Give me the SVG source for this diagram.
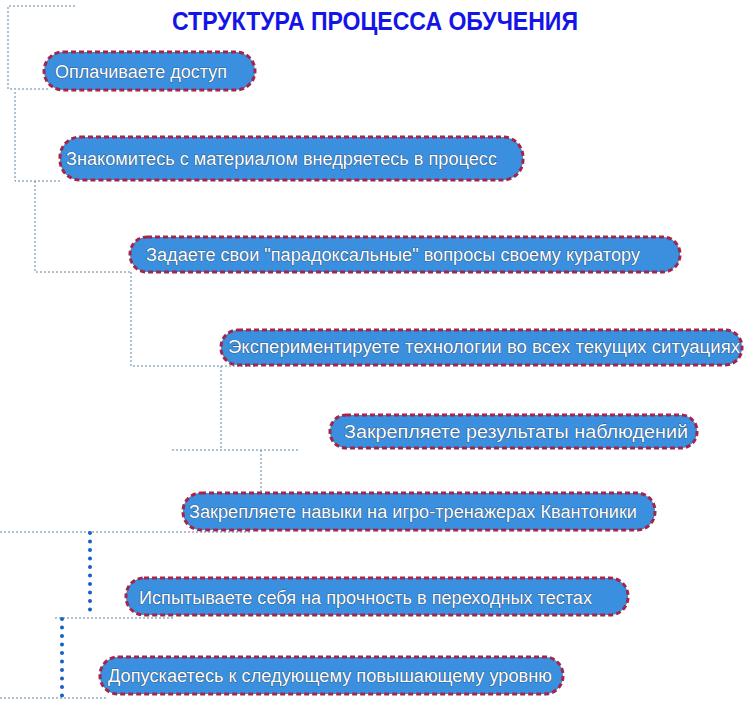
<svg xmlns="http://www.w3.org/2000/svg" width="756" height="709" viewBox="0 0 756 709">
<style>
.n rect{fill:#3b8fdf;stroke:#a3264a;stroke-width:3;stroke-dasharray:5 3}
.n text{font-family:"Liberation Sans",Arial,sans-serif;font-size:18px;fill:#fff;stroke:#1b3a5a;stroke-width:0.7;paint-order:stroke}
.c path{fill:none;stroke:#5a86a8;stroke-width:1;stroke-dasharray:2 2}
.c path.b{stroke:#1560c8;stroke-width:4;stroke-linecap:round;stroke-dasharray:0 8.5}
</style>
<rect width="756" height="709" fill="#fff"/>
<text x="172" y="30" textLength="406" lengthAdjust="spacingAndGlyphs" font-family="'Liberation Sans',Arial,sans-serif" font-size="25" font-weight="bold" fill="#1414e6">СТРУКТУРА ПРОЦЕССА ОБУЧЕНИЯ</text>
<g class="c" id="connectors">
<path d="M75 6H8V89H48"/>
<path d="M15 92V181H60"/>
<path d="M35 181V272H130"/>
<path d="M131 272V366H255"/>
<path d="M221 366V450M172 450H300"/>
<path d="M261 450V530M0 532H250"/>
<path d="M55 618H175M0 698H108"/>
<path class="b" d="M90 533V615"/>
<path class="b" d="M62 619V698"/>
</g>
<g class="n" id="n1"><rect x="44" y="52" width="211" height="38" rx="19"/><text x="55" y="78" textLength="172" lengthAdjust="spacingAndGlyphs">Оплачиваете доступ</text></g>
<g class="n" id="n2"><rect x="60" y="137" width="463" height="43" rx="20"/><text x="66" y="165" textLength="431" lengthAdjust="spacingAndGlyphs">Знакомитесь с материалом внедряетесь в процесс</text></g>
<g class="n" id="n3"><rect x="130" y="237" width="550" height="35" rx="17"/><text x="146" y="261" textLength="494" lengthAdjust="spacingAndGlyphs">Задаете свои "парадоксальные" вопросы своему куратору</text></g>
<g class="n" id="n4"><rect x="221" y="330" width="521" height="35" rx="17"/><text x="228" y="353" textLength="512" lengthAdjust="spacingAndGlyphs">Экспериментируете технологии во всех текущих ситуациях</text></g>
<g class="n" id="n5"><rect x="330" y="415" width="367" height="33" rx="16"/><text x="344" y="438" textLength="344" lengthAdjust="spacingAndGlyphs">Закрепляете результаты наблюдений</text></g>
<g class="n" id="n6"><rect x="183" y="493" width="472" height="37" rx="18"/><text x="189" y="518" textLength="448" lengthAdjust="spacingAndGlyphs">Закрепляете навыки на игро-тренажерах Квантоники</text></g>
<g class="n" id="n7"><rect x="126" y="578" width="502" height="37" rx="18"/><text x="139" y="604" textLength="453" lengthAdjust="spacingAndGlyphs">Испытываете себя на прочность в переходных тестах</text></g>
<g class="n" id="n8"><rect x="100" y="657" width="463" height="37" rx="18"/><text x="108" y="682" textLength="444" lengthAdjust="spacingAndGlyphs">Допускаетесь к следующему повышающему уровню</text></g>
</svg>
